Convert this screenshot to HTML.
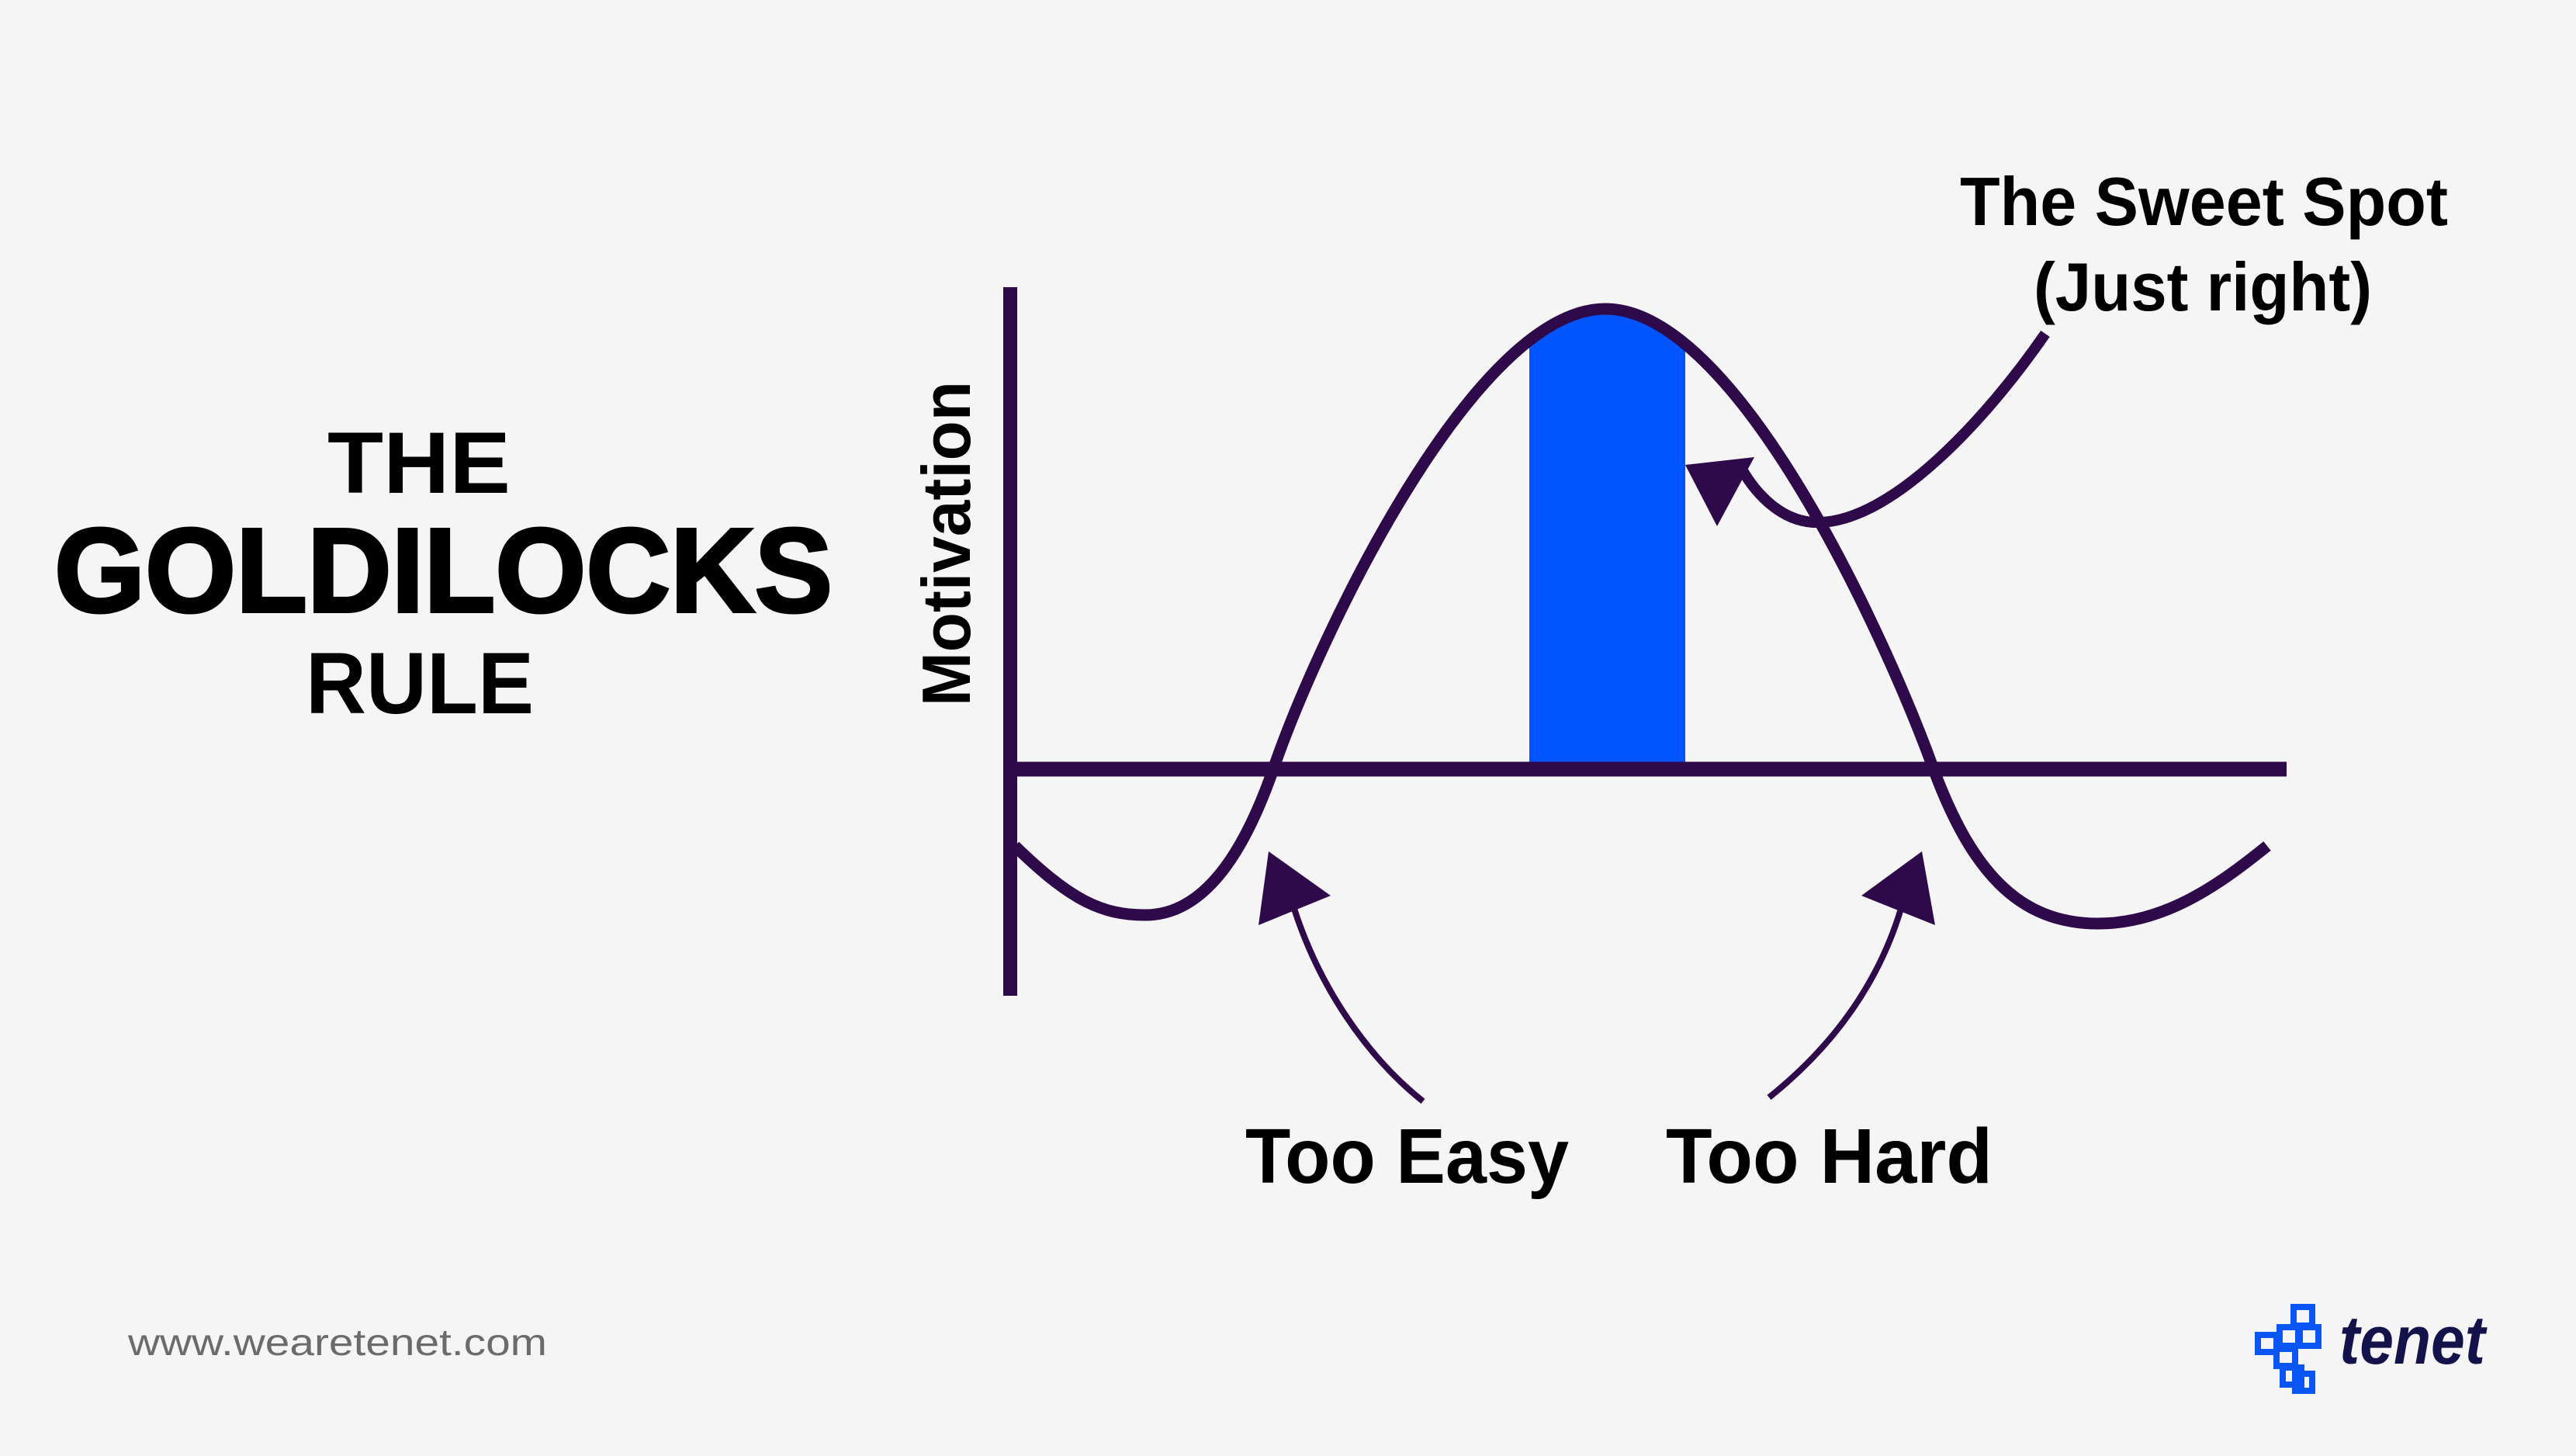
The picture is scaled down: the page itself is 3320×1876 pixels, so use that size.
<!DOCTYPE html>
<html><head><meta charset="utf-8"><style>
html,body{margin:0;padding:0;background:#f5f5f5;}
svg{display:block;}
text{font-family:"Liberation Sans",sans-serif;}
</style></head><body>
<svg width="3320" height="1876" viewBox="0 0 3320 1876" xmlns="http://www.w3.org/2000/svg">
<rect width="3320" height="1876" fill="#f5f5f5"/>
<defs>
<clipPath id="hump"><path d="M1641,991 C1700,820 1900,398 2069,398 C2238,398 2430,820 2492,991 Z"/></clipPath>
</defs>
<!-- blue sweet spot -->
<rect x="1971" y="380" width="201" height="607" fill="#0055ff" clip-path="url(#hump)"/>
<!-- axes -->
<line x1="1302" y1="370" x2="1302" y2="1283" stroke="#2e0a4a" stroke-width="18"/>
<line x1="1302" y1="991" x2="2947" y2="991" stroke="#2e0a4a" stroke-width="19"/>
<!-- curve -->
<path d="M1308,1090 C1380,1160 1420,1179 1476,1179 C1560,1179 1610,1080 1641,991 C1700,820 1900,398 2069,398 C2238,398 2430,820 2492,991 C2540,1120 2600,1190 2704,1190 C2790,1190 2860,1140 2922,1090" fill="none" stroke="#2e0a4a" stroke-width="15"/>
<!-- sweet spot arrow -->
<path d="M2636,430 C2560,540 2440,670 2346,673 C2300,675 2265,640 2244,603" fill="none" stroke="#2e0a4a" stroke-width="14"/>
<polygon points="2172,599 2261,589 2213,678" fill="#2e0a4a"/>
<!-- too easy arrow -->
<path d="M1834,1419 C1760,1360 1700,1270 1668,1171" fill="none" stroke="#2e0a4a" stroke-width="8"/>
<polygon points="1635,1097 1622,1192 1715,1154" fill="#2e0a4a"/>
<!-- too hard arrow -->
<path d="M2280,1414 C2360,1350 2420,1270 2450,1171" fill="none" stroke="#2e0a4a" stroke-width="8"/>
<polygon points="2477,1097 2399,1154 2494,1192" fill="#2e0a4a"/>
<!-- titles -->
<text x="540" y="635" text-anchor="middle" font-size="112" font-weight="bold" fill="#000" textLength="236" lengthAdjust="spacingAndGlyphs">THE</text>
<text x="70" y="788" font-size="154" font-weight="bold" fill="#000" stroke="#000" stroke-width="4" textLength="1003" lengthAdjust="spacingAndGlyphs">GOLDILOCKS</text>
<text x="394" y="919" font-size="112" font-weight="bold" fill="#000" textLength="294" lengthAdjust="spacingAndGlyphs">RULE</text>
<text transform="translate(1250,910) rotate(-90)" font-size="88" font-weight="bold" fill="#000" textLength="419" lengthAdjust="spacingAndGlyphs">Motivation</text>
<text x="2526" y="290" font-size="88" font-weight="bold" fill="#000" textLength="629" lengthAdjust="spacingAndGlyphs">The Sweet Spot</text>
<text x="2621" y="400" font-size="88" font-weight="bold" fill="#000" textLength="436" lengthAdjust="spacingAndGlyphs">(Just right)</text>
<text x="1605" y="1524" font-size="100" font-weight="bold" fill="#000" textLength="417" lengthAdjust="spacingAndGlyphs">Too Easy</text>
<text x="2147" y="1524" font-size="100" font-weight="bold" fill="#000" textLength="421" lengthAdjust="spacingAndGlyphs">Too Hard</text>
<text x="165" y="1746" font-size="48" fill="#6b6b6b" textLength="540" lengthAdjust="spacingAndGlyphs">www.wearetenet.com</text>
<!-- logo -->
<g fill="none" stroke="#0a55f5" stroke-width="8">
<rect x="2956" y="1684" width="24" height="24"/>
<rect x="2938" y="1710" width="24" height="24"/>
<rect x="2964" y="1710" width="24" height="24"/>
<rect x="2910" y="1720" width="24" height="22"/>
<rect x="2934" y="1738" width="24" height="22"/>
<rect x="2942" y="1762" width="24" height="22"/>
<rect x="2958" y="1770" width="22" height="22"/>
</g>
<text x="3015" y="1757" font-size="88" font-weight="bold" font-style="italic" fill="#14124a" textLength="188" lengthAdjust="spacingAndGlyphs">tenet</text>
</svg>
</body></html>
